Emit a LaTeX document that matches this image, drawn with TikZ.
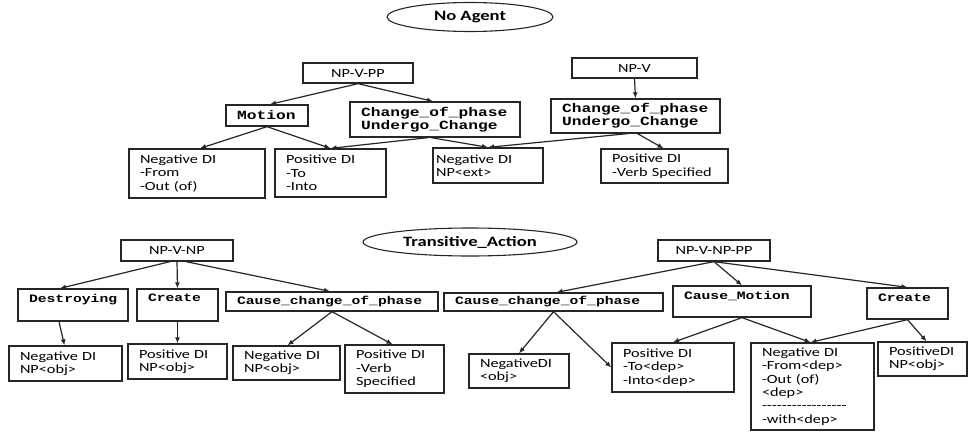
\documentclass[tikz,border=0pt]{standalone}
\usepackage{fontspec}
\usetikzlibrary{shapes.geometric,arrows.meta}
\newfontfamily\sansf[FakeStretch=1.3,Ligatures=TeXOff]{Carlito}
\newfontfamily\monof[FakeStretch=1.3,Ligatures=TeXOff]{Liberation Mono}
\newcommand{\stxt}{\sansf\fontsize{12.5}{13.4}\selectfont}
\newcommand{\mtop}{\monof\bfseries\fontsize{12.5}{13.3}\selectfont}
\newcommand{\mbot}{\monof\bfseries\fontsize{11.3}{13}\selectfont}
\tikzset{
  box/.style={draw=black!85, line width=1.3pt, inner xsep=11pt, inner ysep=0pt, align=left, font=\stxt},
  hbox/.style={draw=black!85, line width=1.3pt, inner sep=0pt, align=center, font=\stxt},
  ell/.style={draw=black!85, ellipse, line width=1.1pt, inner sep=0pt, font=\sansf\bfseries\fontsize{14.3}{15}\selectfont},
  arr/.style={-{Latex[length=6pt,width=5pt]}, line width=1.2pt, draw=black!85},
}
\begin{document}
\begin{tikzpicture}[x=1pt,y=-1pt]
\useasboundingbox (0,0) rectangle (969,431);
% ---------- top: No Agent ----------
\node[ell, minimum width=166, minimum height=29] (noagent) at (470,17) {No Agent};
\node[hbox, minimum width=110, minimum height=20] (npvpp) at (358,73) {NP-V-PP};
\node[box, font=\mtop, minimum width=82, minimum height=21, text width=60] (motion) at (267,115.5) {Motion};
\node[box, font=\mtop, minimum width=170, minimum height=35, text width=148] (cop1) at (435,119.5) {Change\_of\_phase\\Undergo\_Change};
\node[hbox, minimum width=125, minimum height=20] (npv) at (634.5,68) {NP-V};
\node[box, font=\mtop, minimum width=169, minimum height=34, text width=147] (cop2) at (635.5,116) {Change\_of\_phase\\Undergo\_Change};
\node[box, minimum width=136, minimum height=49, text width=114] (negfrom) at (197,173.5) {Negative DI\\-From\\-Out (of)};
\node[box, minimum width=111, minimum height=48, text width=89] (posto) at (330.5,173) {Positive DI\\-To\\-Into};
\node[box, inner xsep=3pt, minimum width=110, minimum height=35, text width=104] (negext) at (488,165.5) {Negative DI\\NP<ext>};
\node[box, minimum width=127, minimum height=34, text width=105] (posverb) at (664.5,166) {Positive DI\\-Verb Specified};
\draw[arr] (npvpp.south) -- ([xshift=3]motion.north);
\draw[arr] (npvpp.south) -- ([xshift=-2]cop1.north);
\draw[arr] (motion.south) -- ([xshift=3]negfrom.north);
\draw[arr] (motion.south) -- (posto.north);
\draw[arr] ([xshift=-7]cop1.south) -- (posto.north);
\draw[arr] ([xshift=-4]cop1.south) -- (negext.north);
\draw[arr] (npv.south) -- (cop2.north);
\draw[arr] ([xshift=-8]cop2.south) -- (negext.north);
\draw[arr] ([xshift=2]cop2.south) -- ([xshift=-1]posverb.north);
% ---------- bottom: Transitive_Action ----------
\node[ell, minimum width=214, minimum height=28] (trans) at (470,242) {Transitive\_Action};
\node[hbox, minimum width=112, minimum height=21] (npvnp) at (177,250.5) {NP-V-NP};
\node[box, font=\mbot, minimum width=110, text width=88, text height=13.5, text depth=18.5] (destroy) at (73,305) {Destroying};
\node[box, font=\mbot, minimum width=81, text width=59, text height=12.5, text depth=19.5] (create1) at (177.5,305) {Create};
\node[box, font=\mbot, minimum width=212, minimum height=19, text width=190] (ccop1) at (332,301.5) {Cause\_change\_of\_phase};
\node[box, font=\mbot, minimum width=219, minimum height=18, text width=197] (ccop2) at (553.5,302) {Cause\_change\_of\_phase};
\node[hbox, minimum width=112, minimum height=21] (npvnppp) at (714,250.5) {NP-V-NP-PP};
\node[box, font=\mbot, minimum width=138, text width=116, text height=13.5, text depth=17.5] (cmotion) at (742,301.5) {Cause\_Motion};
\node[box, font=\mbot, minimum width=81, text width=59, text height=13.5, text depth=17.5] (create2) at (907.5,303.5) {Create};
\node[box, minimum width=113, minimum height=35, text width=91] (negobj1) at (65.5,363.5) {Negative DI\\NP<obj>};
\node[box, minimum width=99, minimum height=35, text width=77] (posobj1) at (177.5,361.5) {Positive DI\\NP<obj>};
\node[box, minimum width=107, minimum height=34, text width=85] (negobj2) at (286.5,363) {Negative DI\\NP<obj>};
\node[box, minimum width=99, minimum height=48, text width=77] (posverb2) at (394.5,369) {Positive DI\\-Verb\\Specified};
\node[box, minimum width=100, minimum height=34, text width=78] (negobj3) at (519,371) {NegativeDI\\<obj>};
\node[box, minimum width=122, minimum height=49, text width=100] (posdep) at (673,367.5) {Positive DI\\-To<dep>\\-Into<dep>};
\node[box, minimum width=123, minimum height=87, text width=101] (negfrom2) at (812.5,386.5) {Negative DI\\-From<dep>\\-Out (of)\\<dep>\\-{}-{}-{}-{}-{}-{}-{}-{}-{}-{}-{}-{}-{}-{}-{}-{}-\\-with<dep>};
\node[box, minimum width=89, minimum height=34, text width=67] (posobj2) at (922.5,359) {PositiveDI\\NP<obj>};
\draw[arr] ([xshift=-7]npvnp.south) -- ([xshift=-13]destroy.north);
\draw[arr] (npvnp.south) -- (create1.north);
\draw[arr] ([xshift=9]npvnp.south) -- ([xshift=-2]ccop1.north);
\draw[arr] ([xshift=-14]destroy.south) -- ([xshift=-1]negobj1.north);
\draw[arr] (create1.south) -- (posobj1.north);
\draw[arr] (ccop1.south) -- ([xshift=1]negobj2.north);
\draw[arr] (ccop1.south) -- ([xshift=-2]posverb2.north);
\draw[arr] (npvnppp.south) -- ([xshift=3]ccop2.north);
\draw[arr] (npvnppp.south) -- (cmotion.north);
\draw[arr] (npvnppp.south) -- (create2.north);
\draw[arr] (ccop2.south) -- (negobj3.north);
\draw[arr] (ccop2.south) -- (posdep.west);
\draw[arr] (cmotion.south) -- (posdep.north);
\draw[arr] (cmotion.south) -- ([xshift=-2]negfrom2.north);
\draw[arr] (create2.south) -- ([xshift=-2]negfrom2.north);
\draw[arr] (create2.south) -- ([xshift=4]posobj2.north);
\end{tikzpicture}
\end{document}
